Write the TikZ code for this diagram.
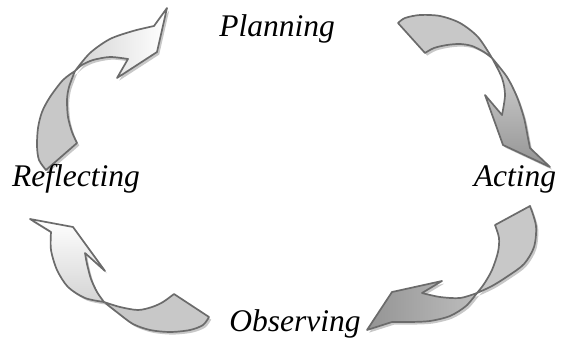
\documentclass[tikz,border=0pt]{standalone}
\usepackage{fontspec}
\setmainfont{Liberation Serif}
\usetikzlibrary{positioning}
\definecolor{cborde}{HTML}{6B6B6B}
\definecolor{ccola}{HTML}{C8C8C8}
\definecolor{cclaro}{HTML}{D4D4D4}
\definecolor{cmedio}{HTML}{BDBDBD}
\definecolor{coscuro}{HTML}{949494}
\definecolor{csombra}{HTML}{9A9A9A}
\tikzset{
  trazo/.style={draw=cborde,line width=1.7pt,line join=round,
                preaction={fill=csombra,opacity=.55,
                           transform canvas={shift={(2.2pt,-2.6pt)}}}},
  cola/.style={trazo,fill=ccola},
  puntab/.style={trazo,left color=cclaro,right color=white},
  puntabv/.style={trazo,top color=white,bottom color=cclaro},
  puntag/.style={trazo,top color=cclaro,bottom color=coscuro},
  puntagh/.style={trazo,left color=coscuro,right color=cmedio},
  etapa/.style={font=\itshape\fontsize{31.5}{36}\selectfont,inner sep=0pt,anchor=base},
}
\begin{document}
\begin{tikzpicture}[x=1pt,y=-1pt]
\useasboundingbox (0,0) rectangle (562,340);

\path[cola] (75,71) -- plot[smooth] coordinates {(75,71) (63,80) (50,97) (42,112) (38,128) (37,146) (39,160) (46,170)}
  -- (77,143) -- plot[smooth] coordinates {(77,143) (72,132) (68,117) (67,100) (69,87) (75,71)} -- cycle;
\path[puntab] (75,71) -- plot[smooth] coordinates {(75,71) (90,53) (110,39) (133,31) (154,26)}
  -- (167,8) -- (157,52) -- (117,78) -- (128,59)
  -- plot[smooth] coordinates {(128,59) (110,57) (93,60) (82,65) (75,71)} -- cycle;

\path[cola] (398,23) -- plot[smooth] coordinates {(398,23) (405,18) (420,15) (440,16) (460,23) (478,37) (492,58)}
  -- plot[smooth] coordinates {(492,58) (484,52) (472,46) (460,44) (447,45) (434,48) (425,53)} -- cycle;
\path[puntag] (492,58) -- plot[smooth] coordinates {(492,58) (507,77) (517,97) (524,118) (528,138) (530,148)}
  -- (550,167) -- (503,145) -- (485,95) -- (502,115)
  -- plot[smooth] coordinates {(502,115) (505,95) (502,78) (492,58)} -- cycle;

\path[cola] (530,206) -- plot[smooth] coordinates {(530,206) (536,226) (534,247) (524,264) (508,276) (492,286) (477,293)}
  -- plot[smooth] coordinates {(477,293) (484,284) (492,270) (498,252) (499,238) (495,225)} -- cycle;
\path[puntagh] (477,293) -- plot[smooth] coordinates {(477,293) (460,298) (440,297) (422,293)}
  -- (442,281) -- (392,292) -- (367,330) -- (392,322)
  -- plot[smooth] coordinates {(392,322) (410,322) (430,321) (450,316) (466,306) (477,293)} -- cycle;

\path[cola] (104,302) -- plot[smooth] coordinates {(104,302) (120,307) (138,310) (152,307) (163,302) (174,294)}
  -- (209,317) -- plot[smooth] coordinates {(209,317) (203,325) (190,330) (170,332) (150,330) (133,324) (118,313) (104,302)} -- cycle;
\path[puntabv] (104,302) -- plot[smooth] coordinates {(104,302) (85,298) (68,287) (57,270) (51,250) (51,232)}
  -- (30,219) -- (73,227) -- (105,271) -- (85,253)
  -- plot[smooth] coordinates {(85,253) (87,264) (91,279) (97,292) (104,302)} -- cycle;

\node[etapa] (plan) at (277,36) {Planning};
\node[etapa] (refl) at (76,186) {Reflecting};
\node[etapa] (act) at (515,186) {Acting};
\node[etapa] (obs) at (295,331) {Observing};

\end{tikzpicture}
\end{document}
